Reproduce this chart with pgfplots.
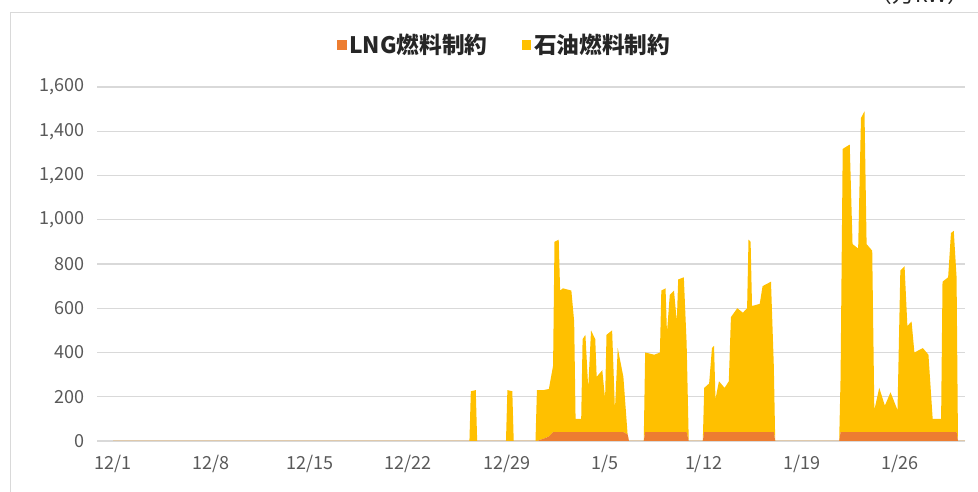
\documentclass[border=0pt]{standalone}
\usepackage{fontspec}
\setmainfont{Noto Sans CJK JP}
\usepackage{pgfplots}
\usepackage{pgfplotstable}
\pgfplotsset{compat=1.18}

\definecolor{lngc}{HTML}{ED7D31}
\definecolor{oilc}{HTML}{FFC000}
\definecolor{gridc}{HTML}{D9D9D9}
\definecolor{tickc}{HTML}{595959}
\definecolor{textc}{HTML}{262626}

% day = days since 12/1; values in 10^4 kW
\pgfplotstableread{
day   lng  oil
0     0    0
25.35 0    0
25.45 0    225
25.8  0    230
25.9  0    0
27.95 0    0
28.05 0    230
28.4  0    225
28.5  0    0
30.05 0    0
30.15 0    230
30.6  10   220
31.0  20   215
31.3  40   300
31.4  40   860
31.7  40   870
31.8  40   640
32.0  40   650
32.6  40   640
32.8  40   500
32.9  40   60
33.3  40   60
33.4  40   420
33.6  40   440
33.8  40   200
34.0  40   460
34.3  40   420
34.4  40   250
34.8  40   280
35.0  40   150
35.1  40   440
35.5  40   460
35.7  40   100
35.9  40   380
36.3  40   250
36.6  30   0
36.7  0    0
37.75 0    0
37.85 40   360
38.5  40   350
38.9  40   360
39.0  40   640
39.3  40   650
39.4  40   450
39.6  40   620
39.9  40   640
40.1  40   500
40.2  40   690
40.6  40   700
40.8  40   400
40.95 0    0
41.95 0    0
42.05 40   200
42.4  40   220
42.6  40   380
42.75 40   390
42.85 40   150
43.1  40   230
43.5  40   200
43.8  40   230
43.95 40   520
44.4  40   560
44.8  40   540
45.1  40   560
45.2  40   870
45.35 40   860
45.45 40   570
46.0  40   580
46.2  40   660
46.8  40   680
47.0  40   300
47.1  0    0
51.65 0    0
51.75 40   250
51.9  40   1280
52.4  40   1300
52.6  40   850
53.0  40   830
53.2  40   1420
53.45 40   1450
53.6  40   850
54.0  40   820
54.15 40   100
54.5  40   200
54.9  40   120
55.3  40   180
55.8  40   100
56.0  40   730
56.3  40   750
56.5  40   480
56.8  40   500
57.0  40   360
57.6  40   380
58.0  40   350
58.3  40   60
58.9  40   60
59.0  40   680
59.4  40   700
59.6  40   900
59.8  40   910
60.0  40   700
60.1  0    0
60.6  0    0
}\constraints

\begin{document}
\begin{tikzpicture}
\useasboundingbox (0pt,0pt) rectangle (733.5pt,369pt);
% outer frame of the chart
\draw[gridc, line width=0.75pt] (7.5pt,-7.5pt) rectangle (750pt,359.25pt);
% unit label
\node[anchor=south east, inner sep=0pt, font=\fontsize{17}{20}\selectfont, text=textc]
  at (728pt,365pt) {（万kW）};
\begin{axis}[
  at={(72.75pt,38.25pt)}, anchor=south west,
  scale only axis, width=651pt, height=265.5pt,
  xmin=-1.14, xmax=60.6, ymin=0, ymax=1600,
  stack plots=y,
  axis line style={draw=none},
  major tick length=0pt,
  xtick={0,7,14,21,28,35,42,49,56},
  xticklabels={12/1,12/8,12/15,12/22,12/29,1/5,1/12,1/19,1/26},
  ytick={0,200,...,1600},
  ymajorgrids, grid style={gridc, line width=0.9pt},
  scaled y ticks=false,
  /pgf/number format/.cd, 1000 sep={,}, assume math mode=true,
  /pgfplots/.cd,
  tick label style={text=tickc, font=\fontsize{13.5}{15}\selectfont},
  xticklabel style={yshift=-7pt},
  yticklabel style={xshift=-6pt},
  legend columns=2,
  legend style={at={(rel axis cs:0.47,1.119)}, anchor=center, draw=none, fill=none,
    font=\fontsize{17}{20}\selectfont\bfseries, text=textc,
    /tikz/every even column/.append style={column sep=24pt}},
  legend image code/.code={\fill[#1] (0pt,-3.5pt) rectangle (7pt,3.5pt);},
]
\addplot[fill=lngc, draw=none] table[x=day, y=lng] {\constraints} \closedcycle;
\addlegendentry{LNG燃料制約}
\addplot[fill=oilc, draw=none] table[x=day, y=oil] {\constraints} \closedcycle;
\addlegendentry{石油燃料制約}
\end{axis}
\end{tikzpicture}
\end{document}
